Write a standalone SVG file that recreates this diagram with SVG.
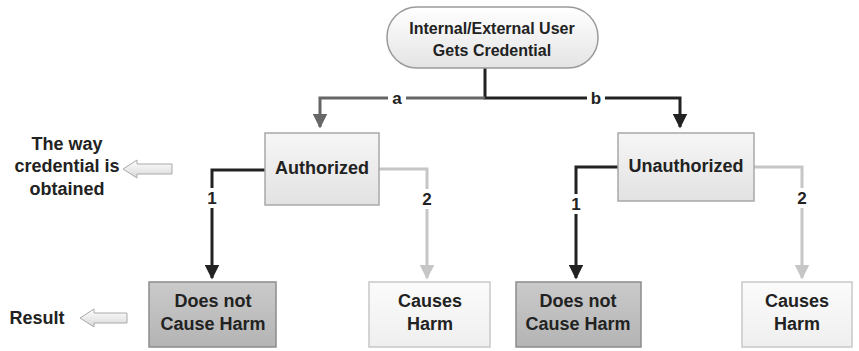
<svg xmlns="http://www.w3.org/2000/svg" width="859" height="351" viewBox="0 0 859 351">
<defs>
<linearGradient id="gTop" x1="0" y1="0" x2="0" y2="1"><stop offset="0" stop-color="#ffffff"/><stop offset="1" stop-color="#e4e4e4"/></linearGradient>
<linearGradient id="gMid" x1="0" y1="0" x2="0" y2="1"><stop offset="0" stop-color="#f6f6f6"/><stop offset="1" stop-color="#e2e2e2"/></linearGradient>
<linearGradient id="gDark" x1="0" y1="0" x2="0" y2="1"><stop offset="0" stop-color="#cacaca"/><stop offset="1" stop-color="#b4b4b4"/></linearGradient>
<linearGradient id="gLight" x1="0" y1="0" x2="0" y2="1"><stop offset="0" stop-color="#fbfbfb"/><stop offset="1" stop-color="#efefef"/></linearGradient>
<linearGradient id="gArrow" x1="0" y1="0" x2="0" y2="1"><stop offset="0" stop-color="#ffffff"/><stop offset="1" stop-color="#d8d8d8"/></linearGradient>
<marker id="mBlack" markerWidth="5" markerHeight="5" refX="4.5" refY="2.5" orient="auto" markerUnits="strokeWidth"><path d="M0,0 L5,2.5 L0,5 Z" fill="#222"/></marker>
<marker id="mGray" markerWidth="5" markerHeight="5" refX="4.5" refY="2.5" orient="auto" markerUnits="strokeWidth"><path d="M0,0 L5,2.5 L0,5 Z" fill="#666"/></marker>
<marker id="mLight" markerWidth="5" markerHeight="5" refX="4.5" refY="2.5" orient="auto" markerUnits="strokeWidth"><path d="M0,0 L5,2.5 L0,5 Z" fill="#c6c6c6"/></marker>
</defs>
<style>
text{font-family:"Liberation Sans",Arial,sans-serif;font-weight:bold;fill:#222;text-anchor:middle}
.t{font-size:16px}
.n{font-size:18px}
.lbl{font-size:17px}
.c{fill:none;stroke-width:3}
.black{stroke:#222}
.gray{stroke:#666}
.light{stroke:#c6c6c6}
.gap{fill:#fff}
</style>
<g id="connectors">
<path class="c black" d="M485 68 V98 H680 V127" marker-end="url(#mBlack)"/>
<path class="c gray" d="M485 98 H320 V127" marker-end="url(#mGray)"/>
<path class="c black" d="M265 170 H212 V278" marker-end="url(#mBlack)"/>
<path class="c light" d="M379 169 H427 V278" marker-end="url(#mLight)"/>
<path class="c black" d="M618 167 H576 V278" marker-end="url(#mBlack)"/>
<path class="c light" d="M754 167 H802 V278" marker-end="url(#mLight)"/>
<rect class="gap" x="388" y="89" width="18" height="18"/>
<text class="lbl" x="397" y="104">a</text>
<rect class="gap" x="587" y="89" width="18" height="18"/>
<text class="lbl" x="596" y="104">b</text>
<rect class="gap" x="204" y="188" width="16" height="20"/>
<text class="lbl" x="212" y="204">1</text>
<rect class="gap" x="419" y="189" width="16" height="20"/>
<text class="lbl" x="427" y="205">2</text>
<rect class="gap" x="568" y="194" width="16" height="20"/>
<text class="lbl" x="576" y="210">1</text>
<rect class="gap" x="794" y="188" width="16" height="20"/>
<text class="lbl" x="802" y="204">2</text>
</g>
<g id="top">
<rect x="387" y="7" width="211" height="61" rx="30" fill="url(#gTop)" stroke="#9a9a9a" stroke-width="1.5"/>
<text class="t" x="492" y="34">Internal/External User</text>
<text class="t" x="492" y="56">Gets Credential</text>
</g>
<g id="authorized">
<rect x="265" y="133" width="114" height="72" fill="url(#gMid)" stroke="#a8a8a8" stroke-width="1.5"/>
<text class="n" x="322" y="174">Authorized</text>
</g>
<g id="unauthorized">
<rect x="618" y="133" width="136" height="68" fill="url(#gMid)" stroke="#a8a8a8" stroke-width="1.5"/>
<text class="n" x="686" y="172">Unauthorized</text>
</g>
<g id="noharm1">
<rect x="149" y="282" width="127" height="65" fill="url(#gDark)" stroke="#8c8c8c" stroke-width="1.5"/>
<text class="n" x="213" y="307">Does not</text>
<text class="n" x="213" y="330">Cause Harm</text>
</g>
<g id="harm1">
<rect x="369" y="282" width="121" height="65" fill="url(#gLight)" stroke="#c8c8c8" stroke-width="1.5"/>
<text class="n" x="430" y="307">Causes</text>
<text class="n" x="430" y="330">Harm</text>
</g>
<g id="noharm2">
<rect x="516" y="282" width="125" height="65" fill="url(#gDark)" stroke="#8c8c8c" stroke-width="1.5"/>
<text class="n" x="578" y="307">Does not</text>
<text class="n" x="578" y="330">Cause Harm</text>
</g>
<g id="harm2">
<rect x="742" y="282" width="110" height="65" fill="url(#gLight)" stroke="#c8c8c8" stroke-width="1.5"/>
<text class="n" x="797" y="307">Causes</text>
<text class="n" x="797" y="330">Harm</text>
</g>
<g id="legend-way">
<text class="n" x="67" y="150">The way</text>
<text class="n" x="67" y="172">credential is</text>
<text class="n" x="67" y="195">obtained</text>
<polygon points="123,169 137,160 137,164 172,164 172,174 137,174 137,178" fill="url(#gArrow)" stroke="#aaa" stroke-width="1"/>
</g>
<g id="legend-result">
<text class="n" x="37" y="324">Result</text>
<polygon points="80,318 94,309 94,313 127,313 127,323 94,323 94,327" fill="url(#gArrow)" stroke="#aaa" stroke-width="1"/>
</g>
</svg>
